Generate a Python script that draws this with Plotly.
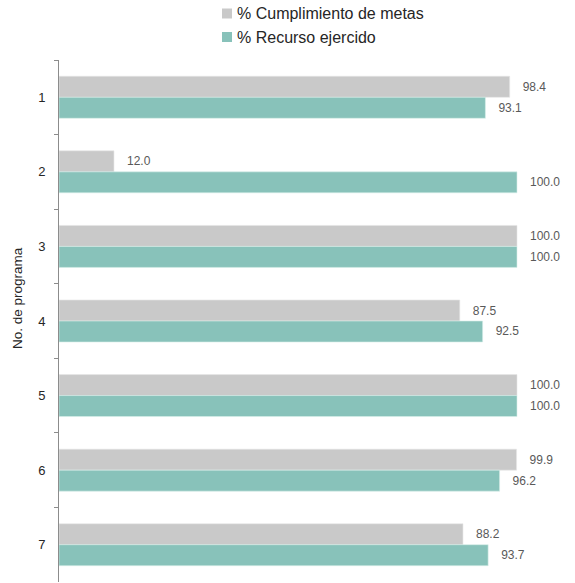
import plotly.graph_objects as go

programas = ["1", "2", "3", "4", "5", "6", "7"]
cumplimiento = [98.4, 12.0, 100.0, 87.5, 100.0, 99.9, 88.2]
recurso = [93.1, 100.0, 100.0, 92.5, 100.0, 96.2, 93.7]
series_names = ["% Cumplimiento de metas", "% Recurso ejercido"]
colors = ["#C9C9C9", "#88C2BA"]

W, H = 575, 583
ML, MR, MT, MB = 59, 5, 60, 1
PW, PH = W - ML - MR, H - MT - MB


def px_x(x):
    return (x - ML) / PW


def px_y(y):
    return (H - MB - y) / PH


NB = "\u00a0" * 3
FONT = "Liberation Sans, Arial"

fig = go.Figure()
for vals, name, col, lc in [(cumplimiento, series_names[0], colors[0], "#E6E6E6"),
                            (recurso, series_names[1], colors[1], "#D9EEEA")]:
    fig.add_trace(go.Bar(
        y=programas, x=vals, orientation="h", name=name, showlegend=False,
        marker=dict(color=col, line=dict(color=lc, width=0.6)),
        text=[NB + f"{v:.1f}" for v in vals],
        textposition="outside", cliponaxis=False, constraintext="none",
        textfont=dict(family=FONT, size=12, color="#595959"),
    ))

shapes = []
annotations = []
legend_rows = [(8.5, 18.5, 13.5), (32, 42, 37.5)]
for (y0, y1, yc), name, col in zip(legend_rows, series_names, colors):
    shapes.append(dict(type="rect", xref="paper", yref="paper",
                       x0=px_x(222), x1=px_x(232), y0=px_y(y1), y1=px_y(y0),
                       fillcolor=col, line=dict(width=0)))
    annotations.append(dict(text=name, xref="paper", yref="paper",
                            x=px_x(235), y=px_y(yc), xanchor="left", yanchor="middle",
                            showarrow=False, font=dict(family=FONT, size=16, color="#262626")))

annotations.append(dict(text="No. de programa", xref="paper", yref="paper",
                        x=px_x(17.5), y=px_y(298.5), xanchor="center", yanchor="middle",
                        textangle=-90, showarrow=False,
                        font=dict(family=FONT, size=13.5, color="#262626")))

fig.update_layout(
    width=W, height=H,
    margin=dict(l=ML, r=MR, t=MT, b=MB),
    paper_bgcolor="white", plot_bgcolor="white",
    barmode="group", bargap=0.437, bargroupgap=0,
    font=dict(family=FONT, color="#262626"),
    showlegend=False,
    shapes=shapes, annotations=annotations,
    xaxis=dict(range=[0, PW / 4.58], visible=False, fixedrange=True),
    yaxis=dict(
        type="category", autorange="reversed",
        showline=True, linecolor="#8C8C8C", linewidth=1,
        ticks="outside", ticklen=4, tickcolor="#8C8C8C", tickson="boundaries",
        ticklabelstandoff=10,
        tickfont=dict(size=13, color="#262626"),
        showgrid=False, zeroline=False, fixedrange=True,
    ),
)

fig.write_html("out.html", config={"displayModeBar": False},
               post_script="document.body.style.margin='0px';")
